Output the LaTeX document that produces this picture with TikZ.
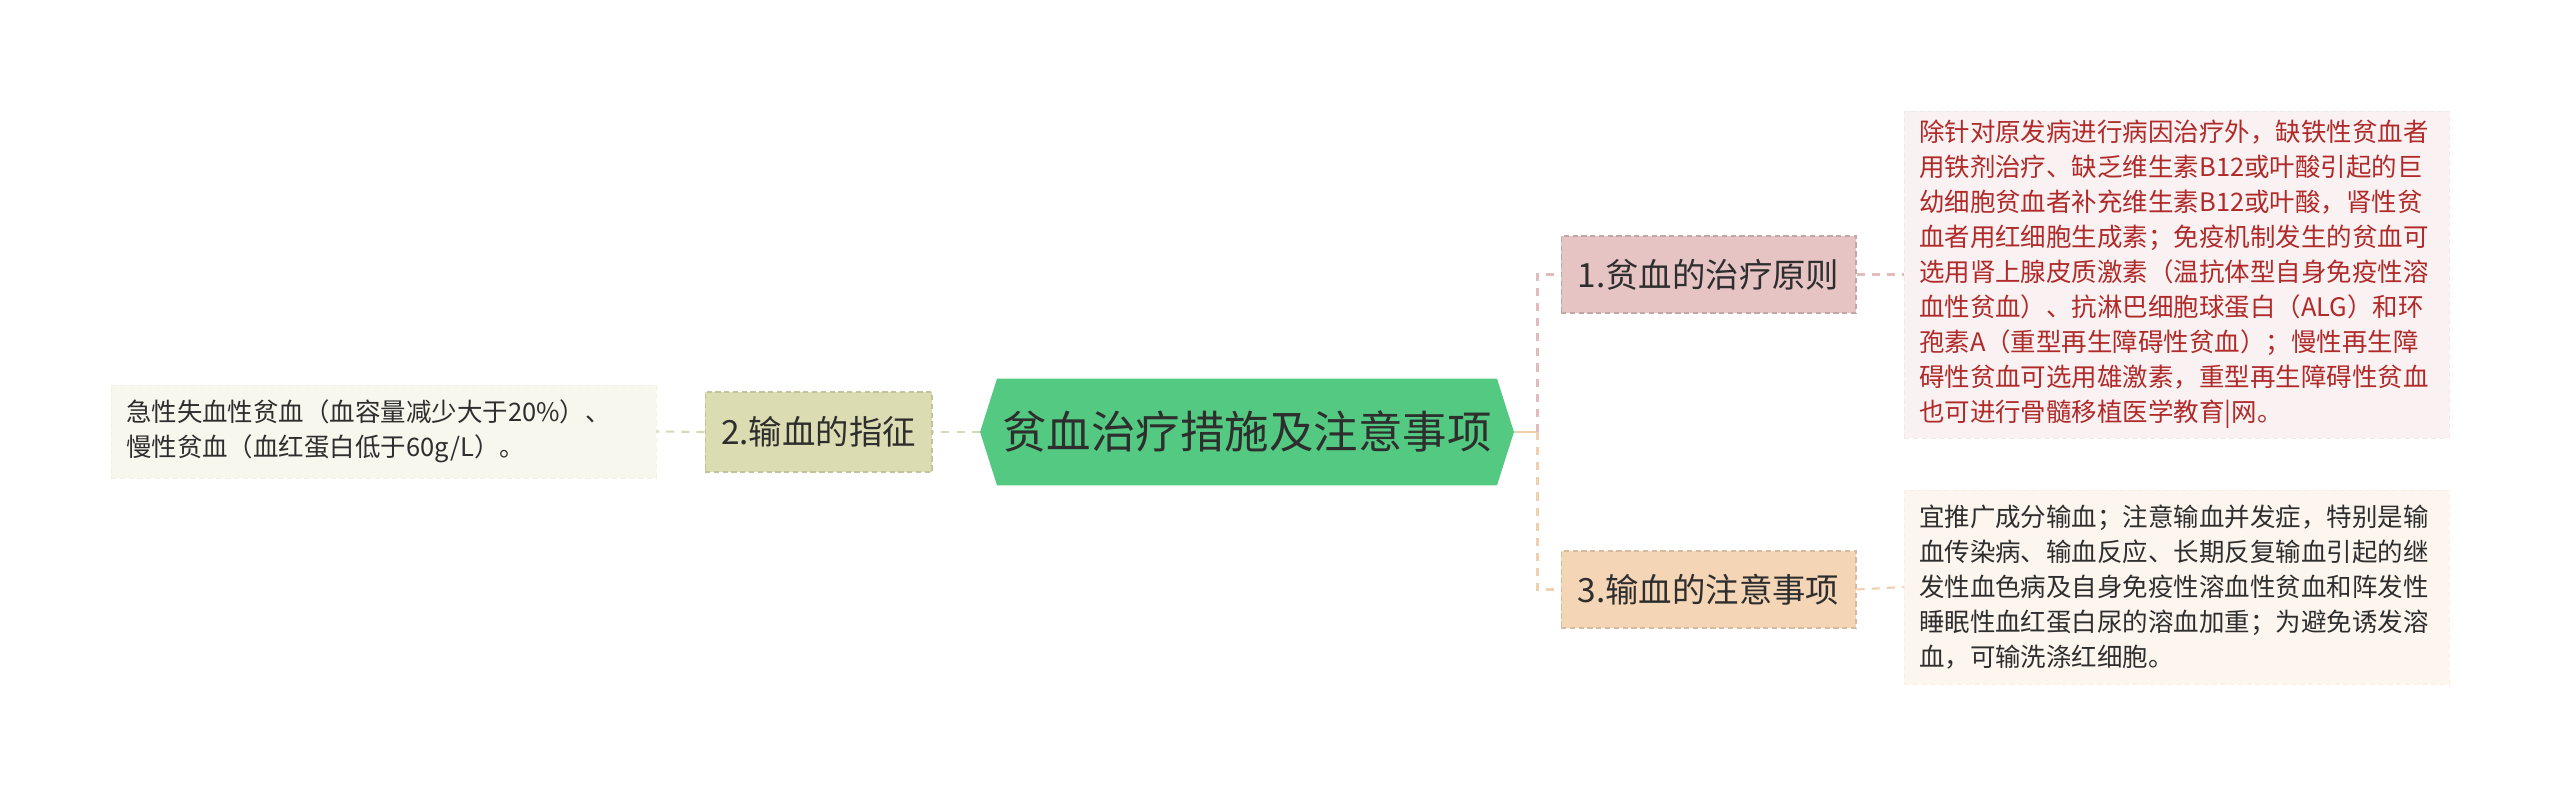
\documentclass[tikz,border=0pt]{standalone}
\usepackage{fontspec}
\setmainfont{Noto Sans CJK SC}
\definecolor{rootgreen}{HTML}{53C981}
\definecolor{txtdark}{HTML}{2E2E2E}
\definecolor{txtred}{HTML}{B02A2A}
\definecolor{pinkfill}{HTML}{E6C4C4}
\definecolor{pinkline}{HTML}{E2BCBC}
\definecolor{peachfill}{HTML}{F4D5B6}
\definecolor{peachline}{HTML}{F0CFAE}
\definecolor{olivefill}{HTML}{DCDCB2}
\definecolor{oliveline}{HTML}{D8D8B4}
\begin{document}
\begin{tikzpicture}[x=0.02cm, y=-0.02cm,
  every node/.append style={inner sep=0pt, text=txtdark},
  root/.style={fill=white, minimum width=10.68cm, minimum height=2.14cm,
    font=\fontsize{25.3}{30}\selectfont,
    path picture={\fill[rootgreen] (path picture bounding box.west)
      -- ([xshift=0.34cm]path picture bounding box.north west) -- ([xshift=-0.34cm]path picture bounding box.north east)
      -- (path picture bounding box.east)
      -- ([xshift=-0.34cm]path picture bounding box.south east) -- ([xshift=0.34cm]path picture bounding box.south west) -- cycle;}},
  topic/.style={minimum width=5.9cm, minimum height=1.54cm, line width=0.6pt, dash pattern=on 3pt off 2pt,
    font=\fontsize{19}{23}\selectfont},
  leaf/.style={minimum width=10.9cm, text width=10.3cm, align=left, line width=0.5pt, dash pattern=on 3pt off 2pt,
    font=\fontsize{14.5}{19.9}\selectfont},
  link/.style={line width=1.7pt, dash pattern=on 4.6pt off 4pt}]
  \useasboundingbox (0,0) rectangle (2560,797);
  % centre and the three branches
  \node[root] (root) at (1247,432) {贫血治疗措施及注意事项};
  \node[topic, fill=pinkfill, draw=pinkfill!85!black] (cure) at (1708.5,274.5) {1.贫血的治疗原则};
  \node[topic, fill=olivefill, draw=olivefill!88!black, minimum width=4.54cm, minimum height=1.6cm] (sign) at (818.5,432) {2.输血的指征};
  \node[topic, fill=peachfill, draw=peachfill!88!black] (care) at (1708.5,589.5) {3.输血的注意事项};
  % leaves
  \node[leaf, fill=pinkfill!22, draw=pinkfill!40, text=txtred, minimum height=6.54cm] (cureleaf) at (2176.5,274.5)
    {除针对原发病进行病因治疗外，缺铁性贫血者\\用铁剂治疗、缺乏维生素B12或叶酸引起的巨\\幼细胞贫血者补充维生素B12或叶酸，肾性贫\\血者用红细胞生成素；免疫机制发生的贫血可\\选用肾上腺皮质激素（温抗体型自身免疫性溶\\血性贫血）、抗淋巴细胞球蛋白（ALG）和环\\孢素A（重型再生障碍性贫血）；慢性再生障\\碍性贫血可选用雄激素，重型再生障碍性贫血\\也可进行骨髓移植医学教育|网。};
  \node[leaf, fill=peachfill!22, draw=peachfill!40, minimum height=3.88cm] (careleaf) at (2176.5,587)
    {宜推广成分输血；注意输血并发症，特别是输\\血传染病、输血反应、长期反复输血引起的继\\发性血色病及自身免疫性溶血性贫血和阵发性\\睡眠性血红蛋白尿的溶血加重；为避免诱发溶\\血，可输洗涤红细胞。};
  \node[leaf, fill=olivefill!22, draw=olivefill!40, minimum height=1.86cm] (signleaf) at (383.5,431.5)
    {急性失血性贫血（血容量减少大于20\%）、\\慢性贫血（血红蛋白低于60g/L）。};
  % connectors
  \coordinate (fork) at (1537,432);
  \draw[link, solid, peachline] (root.east) -- (fork);
  \draw[link, pinkline] (fork) |- (cure.west);
  \draw[link, peachline] (fork) |- (care.west);
  \draw[link, oliveline] (root.west) -- (sign.east);
  \draw[link, oliveline, line width=1.2pt] (sign.west) -- (signleaf.east);
  \draw[link, pinkline, line width=1.2pt] (cure.east) -- (cureleaf.west);
  \draw[link, peachline, line width=1.2pt] (care.east) -- (careleaf.west);
\end{tikzpicture}
\end{document}
